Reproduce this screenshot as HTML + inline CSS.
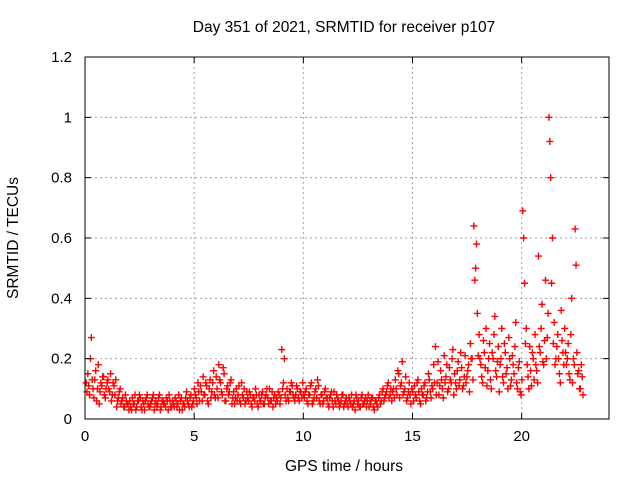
<!DOCTYPE html>
<html><head><meta charset="utf-8"><style>
body{margin:0;background:#fff}
svg{display:block;font-family:"Liberation Sans",sans-serif}
</style></head><body>
<svg id="chart" width="640" height="480">
<rect x="0" y="0" width="640" height="480" fill="#fff"/>
<g id="grid"></g>
<g id="pts"></g>
<rect x="85" y="57" width="524" height="362" fill="none" stroke="#000" stroke-width="1"/>
<g id="ticks"></g>
<text x="344" y="32" text-anchor="middle" font-size="15.5">Day 351 of 2021, SRMTID for receiver p107</text>
<text x="344" y="471" text-anchor="middle" font-size="15.5">GPS time / hours</text>
<text x="18" y="238" text-anchor="middle" font-size="15.5" transform="rotate(-90 18 238)">SRMTID / TECUs</text>
</svg>
<script>
const xTicks=[0,5,10,15,20];
const yTicks=[0,0.2,0.4,0.6,0.8,1,1.2];
const yTickLabels=["0","0.2","0.4","0.6","0.8","1","1.2"];
const step=0.08;
const seriesA=[0.12,0.15,0.08,0.27,0.1,0.13,0.06,0.18,0.09,0.11,0.14,0.07,0.12,0.1,0.15,0.08,0.11,0.13,0.06,0.09,0.05,0.07,0.04,0.06,0.05,
0.06,0.03,0.05,0.08,0.04,0.06,0.07,0.03,0.05,0.06,0.08,0.04,0.05,0.07,0.03,0.06,0.05,0.08,0.04,0.06,0.05,0.07,0.03,0.06,0.04,
0.05,0.07,0.04,0.08,0.06,0.03,0.05,0.07,0.06,0.04,0.08,0.05,0.1,0.07,0.12,0.06,0.09,0.14,0.08,0.11,0.05,0.13,0.09,0.16,0.07,
0.1,0.18,0.12,0.08,0.15,0.06,0.11,0.09,0.13,0.07,0.05,0.1,0.08,0.06,0.12,0.07,0.05,0.09,0.06,0.08,0.04,0.07,0.1,0.05,0.08,
0.06,0.09,0.05,0.08,0.07,0.1,0.06,0.04,0.08,0.07,0.09,0.05,0.23,0.12,0.08,0.1,0.06,0.09,0.11,0.07,0.08,0.1,0.06,0.09,0.12,
0.07,0.1,0.05,0.08,0.12,0.06,0.09,0.07,0.11,0.05,0.08,0.06,0.1,0.07,0.04,0.08,0.06,0.09,0.05,0.07,0.04,0.06,0.08,0.05,0.07,
0.04,0.06,0.08,0.05,0.03,0.07,0.06,0.04,0.08,0.05,0.07,0.06,0.04,0.05,0.07,0.03,0.06,0.04,0.08,0.06,0.1,0.07,0.09,0.12,0.08,
0.06,0.1,0.13,0.08,0.15,0.11,0.19,0.09,0.14,0.07,0.12,0.05,0.09,0.11,0.07,0.13,0.06,0.1,0.08,0.12,0.07,0.15,0.09,0.11,0.18,
0.24,0.12,0.08,0.16,0.1,0.21,0.14,0.09,0.17,0.12,0.23,0.15,0.1,0.19,0.13,0.17,0.11,0.21,0.14,0.18,0.25,0.2,0.64,0.5,0.35,
0.28,0.18,0.12,0.22,0.3,0.16,0.25,0.1,0.2,0.34,0.14,0.24,0.18,0.3,0.12,0.22,0.17,0.27,0.11,0.21,0.15,0.32,0.1,0.19,0.08,
0.69,0.45,0.3,0.14,0.24,0.11,0.2,0.28,0.16,0.54,0.22,0.38,0.18,0.46,0.27,1.0,0.8,0.6,0.32,0.2,0.28,0.15,0.36,0.22,0.3,
0.18,0.25,0.13,0.4,0.2,0.63,0.22,0.16,0.1,0.14];
const seriesB=[0.09,0.11,0.2,0.13,0.07,0.16,0.1,0.05,0.12,0.14,0.08,0.1,0.13,0.09,0.06,0.12,0.08,0.04,0.07,0.1,0.06,0.04,0.08,0.05,0.03,
0.04,0.07,0.05,0.03,0.06,0.08,0.04,0.06,0.03,0.07,0.05,0.04,0.06,0.08,0.05,0.04,0.07,0.03,0.06,0.05,0.04,0.06,0.08,0.04,0.06,
0.04,0.06,0.05,0.03,0.07,0.05,0.04,0.09,0.05,0.07,0.04,0.06,0.08,0.05,0.09,0.11,0.06,0.08,0.12,0.06,0.1,0.07,0.12,0.08,0.14,
0.07,0.13,0.09,0.17,0.06,0.1,0.08,0.12,0.05,0.09,0.07,0.06,0.11,0.05,0.08,0.1,0.06,0.07,0.09,0.05,0.07,0.06,0.08,0.04,0.06,
0.08,0.05,0.07,0.1,0.05,0.06,0.09,0.07,0.05,0.06,0.08,0.07,0.1,0.2,0.06,0.07,0.09,0.12,0.08,0.06,0.11,0.07,0.09,0.07,0.08,
0.09,0.06,0.08,0.11,0.05,0.07,0.1,0.13,0.06,0.08,0.05,0.09,0.07,0.05,0.07,0.09,0.04,0.06,0.08,0.06,0.05,0.08,0.04,0.06,0.05,
0.07,0.05,0.04,0.06,0.08,0.05,0.04,0.07,0.05,0.06,0.04,0.08,0.06,0.07,0.04,0.06,0.05,0.07,0.05,0.09,0.06,0.08,0.11,0.07,0.1,
0.09,0.07,0.1,0.16,0.07,0.12,0.08,0.1,0.06,0.09,0.08,0.1,0.06,0.08,0.12,0.09,0.05,0.08,0.11,0.06,0.09,0.13,0.07,0.1,0.12,
0.08,0.19,0.11,0.13,0.07,0.12,0.18,0.1,0.13,0.2,0.08,0.12,0.16,0.11,0.22,0.1,0.14,0.12,0.16,0.09,0.2,0.13,0.46,0.58,0.21,
0.2,0.14,0.26,0.17,0.11,0.2,0.13,0.22,0.28,0.16,0.19,0.09,0.2,0.14,0.25,0.15,0.1,0.2,0.13,0.18,0.24,0.12,0.17,0.09,0.13,
0.6,0.25,0.18,0.1,0.16,0.22,0.13,0.18,0.12,0.24,0.3,0.19,0.26,0.2,0.35,0.92,0.45,0.25,0.18,0.24,0.2,0.12,0.26,0.18,0.22,
0.2,0.15,0.28,0.12,0.18,0.51,0.15,0.1,0.18,0.08];
const X0=85,X1=609,Y0=419,Y1=57,XMAX=24,YMAX=1.2;
function xs(v){return X0+v/XMAX*(X1-X0);}
function ys(v){return Y0-v/YMAX*(Y0-Y1);}
const NS="http://www.w3.org/2000/svg";
const grid=document.getElementById('grid'),ticks=document.getElementById('ticks'),pts=document.getElementById('pts');
function mk(tag,attrs,parent){const e=document.createElementNS(NS,tag);for(const k in attrs)e.setAttribute(k,attrs[k]);parent.appendChild(e);return e;}
xTicks.forEach(t=>{const x=xs(t);
 if(t>0){const g=mk('line',{x1:x,y1:Y1,x2:x,y2:Y0,stroke:'#a0a0a0','stroke-dasharray':'2,3'},grid);
 
 }
 const a=mk('path',{d:`M${x},${Y0}v-6M${x},${Y1}v6`,stroke:'#000'},ticks);
 
 
 const l=mk('text',{x:x,y:Y0+22,'text-anchor':'middle','font-size':'15'},ticks);l.textContent=t;
 
 
});
yTicks.forEach((t,i)=>{const y=ys(t);
 if(t>0&&t<YMAX){const g=mk('line',{x1:X0,y1:y,x2:X1,y2:y,stroke:'#a0a0a0','stroke-dasharray':'2,3'},grid);
 
 }
 const a=mk('path',{d:`M${X0},${y}h6M${X1},${y}h-6`,stroke:'#000'},ticks);
 
 
 const l=mk('text',{x:X0-13,y:y+5,'text-anchor':'end','font-size':'15'},ticks);l.textContent=yTickLabels[i];
 
 
});
function plot(arr,off){let d='';arr.forEach((v,i)=>{const x=xs(i*step+off),y=ys(v);d+=`M${x-3.5},${y}h7M${x},${y-3.5}v7`;});
 const p=mk('path',{d:d,stroke:'#ff0000','stroke-width':'1.4',fill:'none'},pts);
 
 }
plot(seriesA,0.05);
plot(seriesB,0.09);
</script>
</body></html>
